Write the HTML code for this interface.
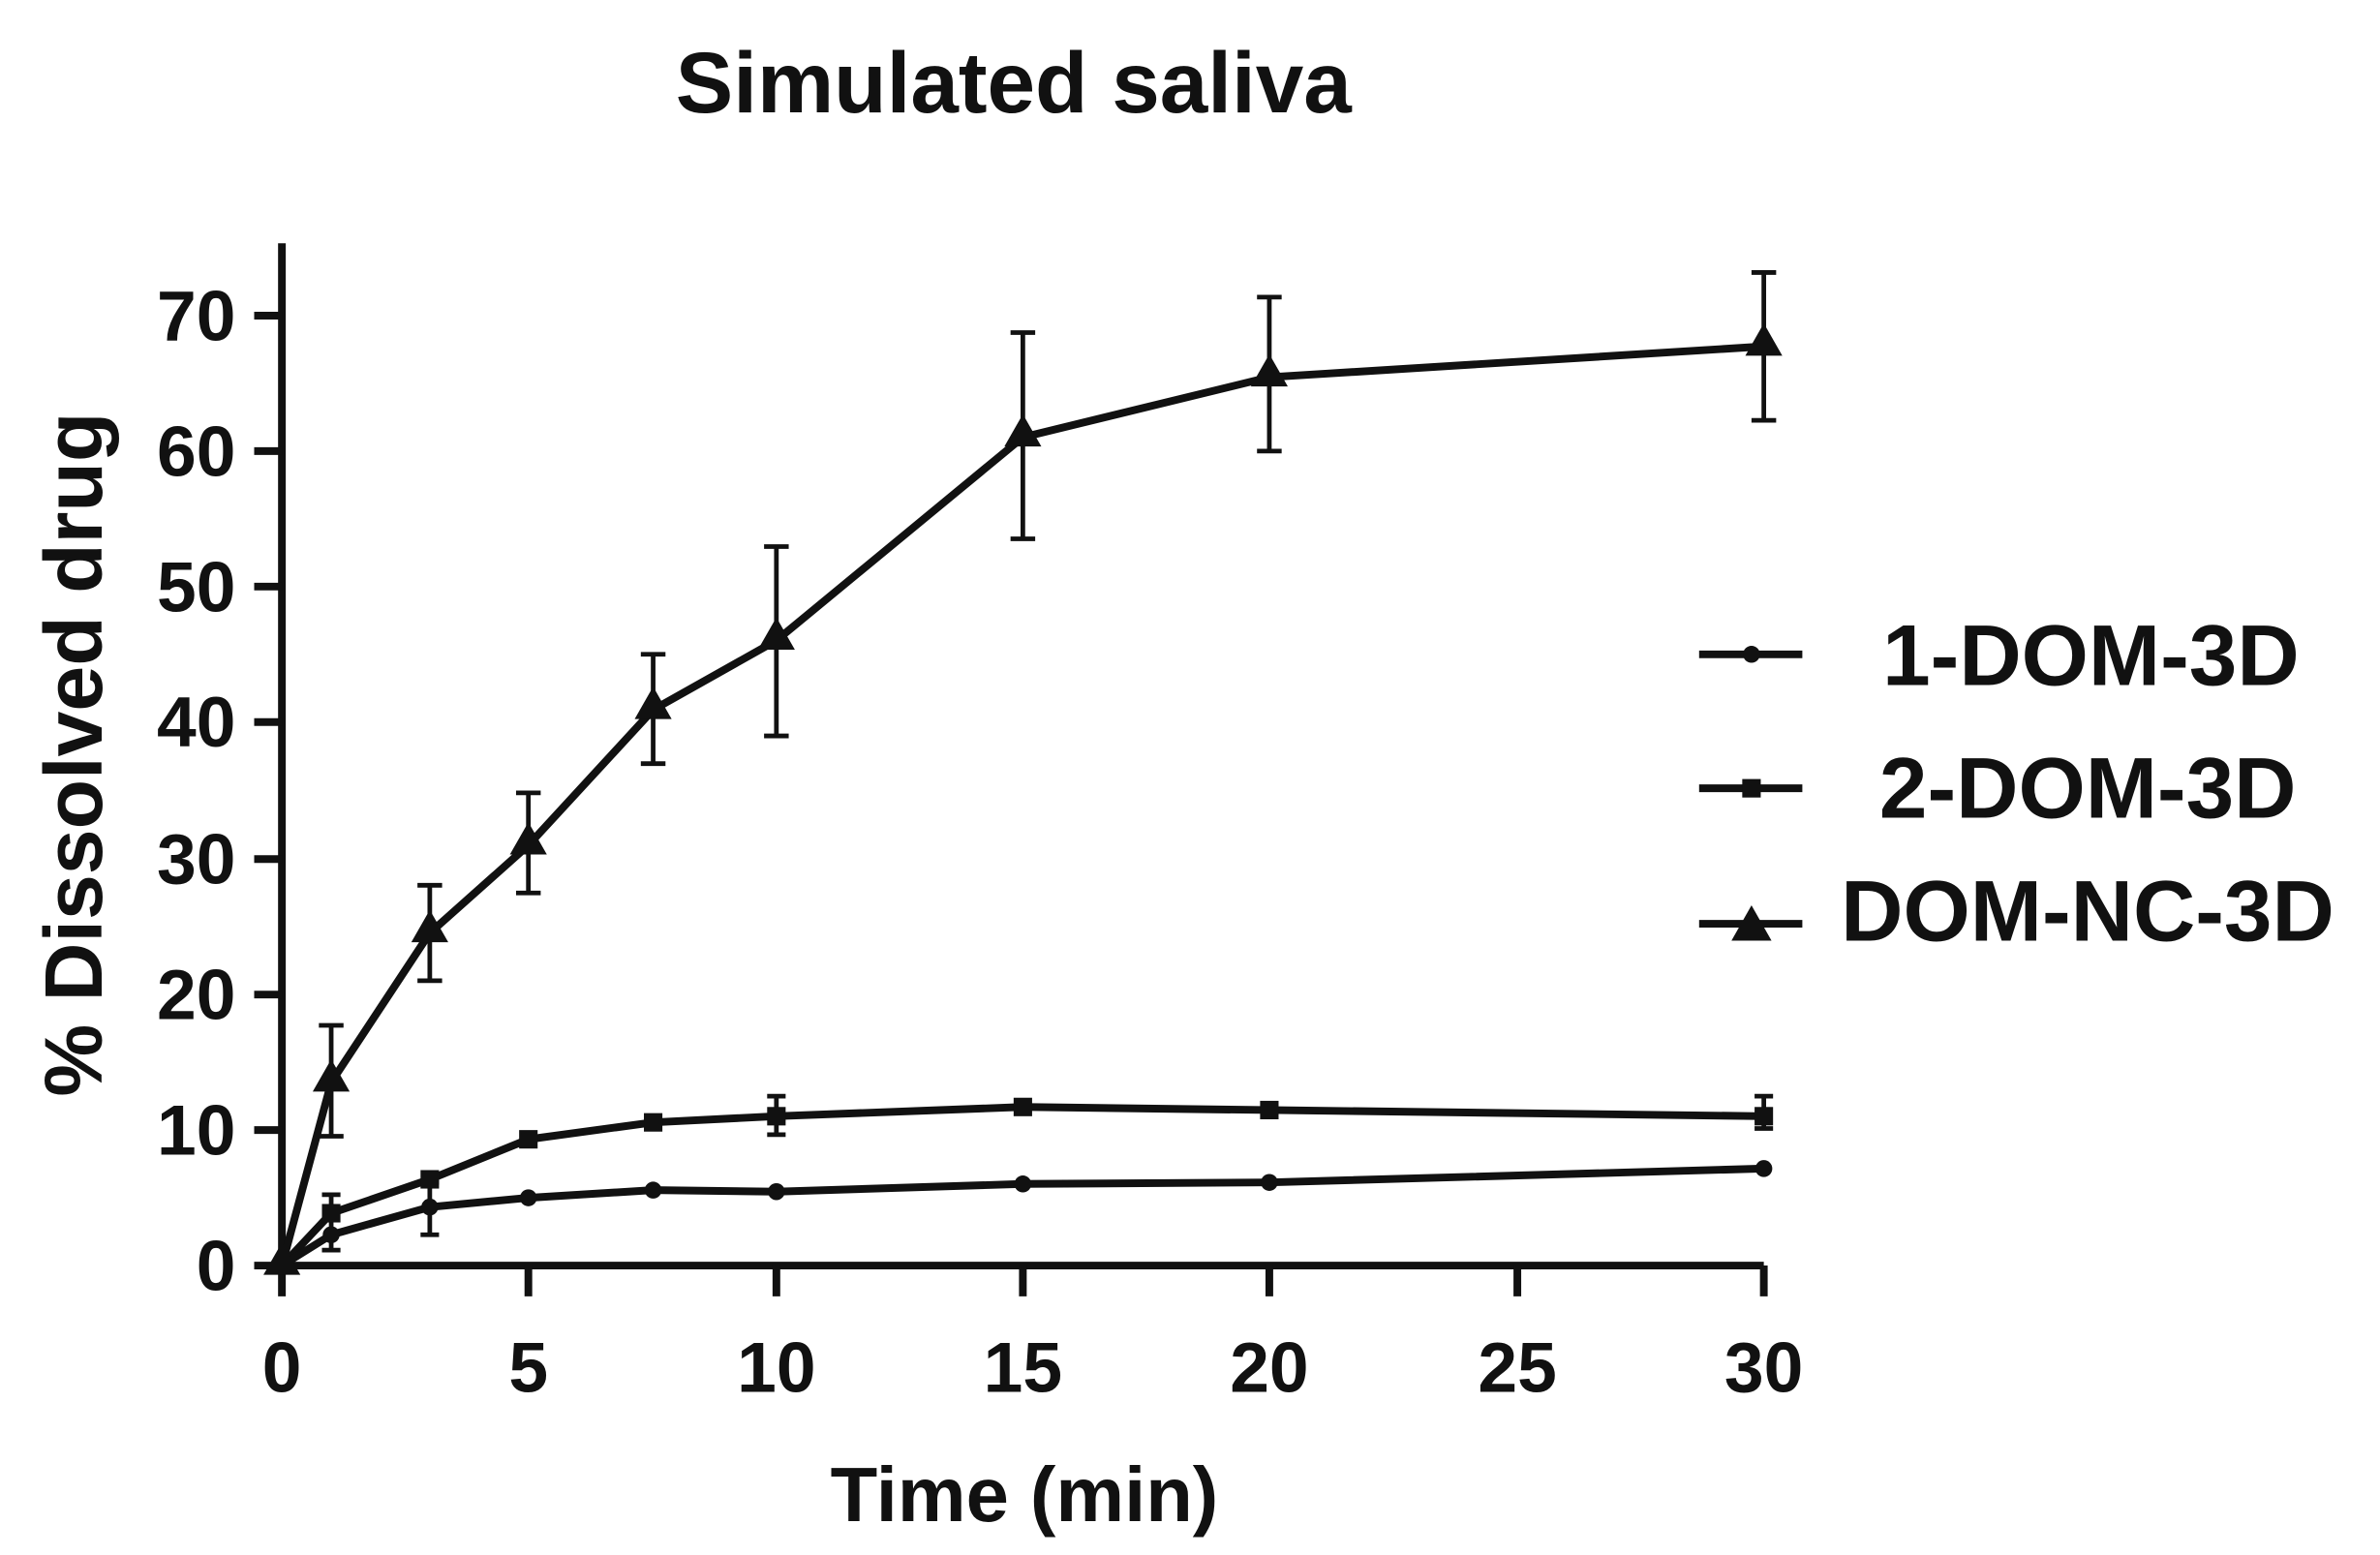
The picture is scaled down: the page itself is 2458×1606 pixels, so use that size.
<!DOCTYPE html>
<html><head><meta charset="utf-8"><style>html,body{margin:0;padding:0;background:#fff}svg{display:block}</style></head>
<body>
<svg width="2458" height="1606" viewBox="0 0 1545 1010" preserveAspectRatio="none" xmlns="http://www.w3.org/2000/svg" font-family="Liberation Sans, sans-serif" font-weight="bold" fill="#111">
<rect width="1545" height="1010" fill="#fff"/>
<text x="658" y="73" font-size="56" text-anchor="middle">Simulated saliva</text>
<g stroke="#111" stroke-width="5" fill="none">
<line x1="183" y1="158" x2="183" y2="824"/>
<line x1="181" y1="822" x2="1145" y2="822"/>
<line x1="165" y1="822" x2="183" y2="822"/><line x1="165" y1="734" x2="183" y2="734"/><line x1="165" y1="646" x2="183" y2="646"/><line x1="165" y1="558" x2="183" y2="558"/><line x1="165" y1="469" x2="183" y2="469"/><line x1="165" y1="381" x2="183" y2="381"/><line x1="165" y1="293" x2="183" y2="293"/><line x1="165" y1="205" x2="183" y2="205"/>
<line x1="183" y1="822" x2="183" y2="842"/><line x1="343" y1="822" x2="343" y2="842"/><line x1="504" y1="822" x2="504" y2="842"/><line x1="664" y1="822" x2="664" y2="842"/><line x1="824" y1="822" x2="824" y2="842"/><line x1="985" y1="822" x2="985" y2="842"/><line x1="1145" y1="822" x2="1145" y2="842"/>
</g>
<g font-size="46" text-anchor="end">
<text x="153" y="838">0</text><text x="153" y="750">10</text><text x="153" y="662">20</text><text x="153" y="574">30</text><text x="153" y="485">40</text><text x="153" y="397">50</text><text x="153" y="309">60</text><text x="153" y="221">70</text>
</g>
<g font-size="46" text-anchor="middle">
<text x="183" y="904">0</text><text x="343" y="904">5</text><text x="504" y="904">10</text><text x="664" y="904">15</text><text x="824" y="904">20</text><text x="985" y="904">25</text><text x="1145" y="904">30</text>
</g>
<text x="665" y="988" font-size="50" text-anchor="middle">Time (min)</text>
<text transform="translate(66,490) rotate(-90)" font-size="53" text-anchor="middle">% Dissolved drug</text>
<g stroke="#111" stroke-width="3" fill="none">
<path d="M215,738V666M207,738h16M207,666h16"/>
<path d="M279,637V575M271,637h16M271,575h16"/>
<path d="M343,580V515M335,580h16M335,515h16"/>
<path d="M424,496V425M416,496h16M416,425h16"/>
<path d="M504,478V355M496,478h16M496,355h16"/>
<path d="M664,350V216M656,350h16M656,216h16"/>
<path d="M824,293V193M816,293h16M816,193h16"/>
<path d="M1145,273V177M1137,273h16M1137,177h16"/>
<path d="M215,812V776M209,812h12M209,776h12"/>
<path d="M279,802V768M273,802h12M273,768h12"/>
<path d="M504,737V712M498,737h12M498,712h12"/>
<path d="M1145,733V712M1139,733h12M1139,712h12"/>
</g>
<g stroke="#111" stroke-width="5" fill="none">
<polyline points="183,822 215,703 279,606 343,549 424,461 504,416 664,284 824,245 1145,225"/>
<polyline points="183,822 215,788 279,766 343,740 424,729 504,725 664,719 824,721 1145,725"/>
<polyline points="183,822 215,802 279,784 343,778 424,773 504,774 664,769 824,768 1145,759"/>
</g>
<g fill="#111">
<path d="M183,807l12,21h-24z"/><path d="M215,688l12,21h-24z"/><path d="M279,591l12,21h-24z"/><path d="M343,534l12,21h-24z"/><path d="M424,446l12,21h-24z"/><path d="M504,401l12,21h-24z"/><path d="M664,269l12,21h-24z"/><path d="M824,230l12,21h-24z"/><path d="M1145,210l12,21h-24z"/>
<rect x="209" y="782" width="12" height="12"/><rect x="273" y="760" width="12" height="12"/><rect x="337" y="734" width="12" height="12"/><rect x="418" y="723" width="12" height="12"/><rect x="498" y="719" width="12" height="12"/><rect x="658" y="713" width="12" height="12"/><rect x="818" y="715" width="12" height="12"/><rect x="1139" y="719" width="12" height="12"/>
<circle cx="215" cy="802" r="5.5"/><circle cx="279" cy="784" r="5.5"/><circle cx="343" cy="778" r="5.5"/><circle cx="424" cy="773" r="5.5"/><circle cx="504" cy="774" r="5.5"/><circle cx="664" cy="769" r="5.5"/><circle cx="824" cy="768" r="5.5"/><circle cx="1145" cy="759" r="5.5"/>
</g>
<g stroke="#111" stroke-width="5"><line x1="1103" y1="425" x2="1170" y2="425"/><line x1="1103" y1="512" x2="1170" y2="512"/><line x1="1103" y1="600" x2="1170" y2="600"/></g>
<circle cx="1137" cy="425" r="5.5"/><rect x="1131" y="506" width="12" height="12"/><path d="M1137,588l13,23h-26z"/>
<g font-size="56"><text x="1222" y="445">1-DOM-3D</text><text x="1220" y="531">2-DOM-3D</text><text x="1195" y="611">DOM-NC-3D</text></g>
</svg>
</body></html>
